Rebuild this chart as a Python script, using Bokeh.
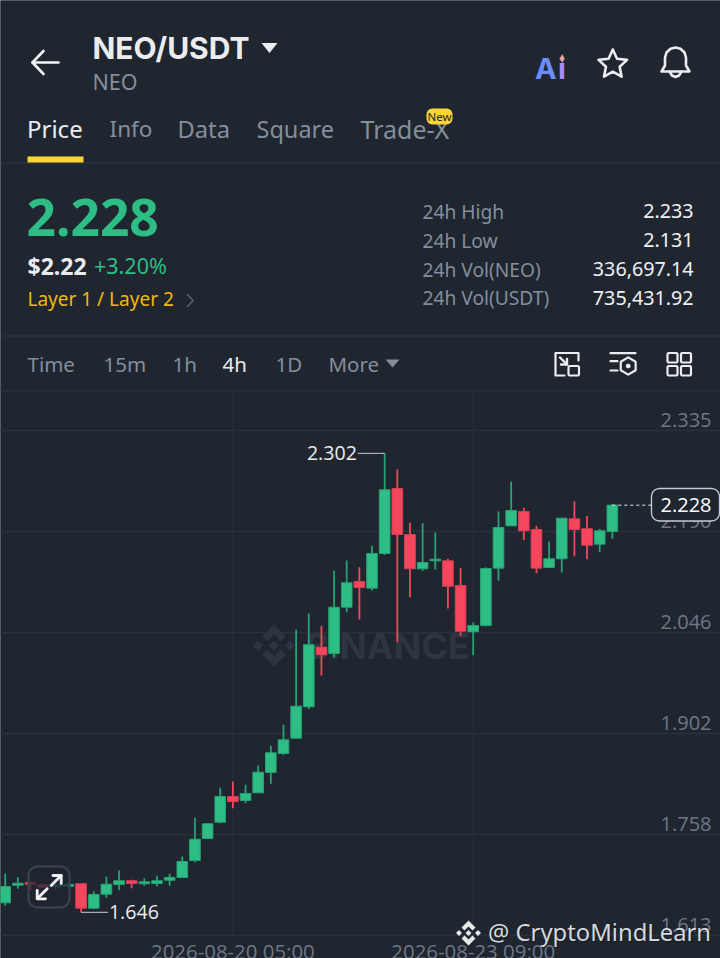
import numpy as np
from bokeh.plotting import figure
from bokeh.models import Range1d, Grid, FixedTicker
from bokeh.core.properties import value
from bokeh.embed import file_html
from bokeh.resources import INLINE

# ---------- data ----------
opens = [1.6598,1.6850,1.6888,1.6860,1.6831,1.6835,1.6870,1.6521,1.6721,1.6860,1.6913,1.6870,1.6874,1.6921,1.6960,1.7203,1.7517,
         1.7750,1.8117,1.8060,1.8170,1.8460,1.8732,1.8950,1.9399,2.0251,2.0161,2.0822,2.1190,2.1094,2.1590,2.2518,2.1861,2.1371,
         2.1485,2.1485,2.1132,2.0471,2.0561,2.1380,2.1985,2.2190,2.1933,2.1390,2.1514,2.2085,2.1943,2.1723,2.1904]
closes = [1.6831,1.6878,1.6864,1.6821,1.6850,1.6860,1.6521,1.6717,1.6864,1.6913,1.6874,1.6898,1.6913,1.6960,1.7188,1.7507,1.7727,
          1.8117,1.8046,1.8160,1.8464,1.8742,1.8927,1.9408,2.0285,2.0142,2.0822,2.1171,2.1104,2.1590,2.2500,2.1861,2.1371,2.1461,
          2.1508,2.1122,2.0479,2.0561,2.1375,2.1961,2.2204,2.1914,2.1380,2.1514,2.2094,2.1933,2.1708,2.1914,2.2280]
highs = [1.7017,1.6964,1.6907,1.6870,1.6860,1.6860,1.6870,1.6760,1.6970,1.7060,1.6927,1.6950,1.6984,1.7013,1.7260,1.7813,1.7731,
         1.8241,1.8331,1.8284,1.8560,1.8842,1.9142,2.0499,2.0732,2.0556,2.1342,2.1490,2.1394,2.1700,2.3020,2.2790,2.2028,2.2022,
         2.1890,2.1514,2.1385,2.0604,2.1390,2.2190,2.2618,2.2243,2.1985,2.1761,2.2094,2.2333,2.2126,2.1943,2.2300]
lows = [1.6560,1.6798,1.6774,1.6812,1.6792,1.6831,1.6460,1.6507,1.6670,1.6778,1.6807,1.6841,1.6835,1.6841,1.6960,1.7178,1.7507,
        1.7736,1.7950,1.8021,1.8170,1.8299,1.8707,1.8950,1.9365,1.9846,2.0108,2.0751,2.0646,2.1061,2.1571,2.0322,2.0965,2.1342,
        2.1361,2.0804,2.0414,2.0136,2.0546,2.1200,2.1985,2.1780,2.1308,2.1380,2.1318,2.1551,2.1508,2.1608,2.1800]
price_ticks = [2.335, 2.190, 2.046, 1.902, 1.758, 1.613]
time_tick_idx = [18, 37]
time_tick_labels = ["2026-08-20 05:00", "2026-08-23 09:00"]
tab_labels = ["Price", "Info", "Data", "Square", "Trade-X"]
interval_labels = ["Time", "15m", "1h", "4h", "1D", "More"]
stat_labels = ["24h High", "24h Low", "24h Vol(NEO)", "24h Vol(USDT)"]
stat_values = ["2.233", "2.131", "336,697.14", "735,431.92"]

# ---------- colours ----------
BG = "#1f2630"
GREEN = "#2ebd85"
RED = "#f6465d"
WHITE = "#eaecef"
GRAY = "#848e9c"
AXIS = "#6f7785"
LINE = "#2b313b"
YELLOW = "#fcd535"
UI = "Noto Sans"
NUM = "Open Sans"

W, H = 720, 958
p = figure(width=W, height=H, x_range=Range1d(0, W), y_range=Range1d(H, 0),
           x_axis_location=None, y_axis_location=None, toolbar_location=None,
           output_backend="svg", min_border=0, outline_line_color=None,
           background_fill_color=BG, border_fill_color=BG)
p.grid.visible = False
p.styles = {"position": "absolute", "left": "0px", "top": "0px"}

# price and candle-index scales on the same frame
p.extra_y_ranges["price"] = Range1d(1.5802, 2.9492)
p.extra_x_ranges["idx"] = Range1d(-0.3715, 56.55)
p.add_layout(Grid(dimension=1, ticker=FixedTicker(ticks=price_ticks), y_range_name="price",
                  grid_line_color=LINE, grid_line_width=1.5))


def T(x, y, s, color=WHITE, size=20, align="left", font=UI, style="normal", **kw):
    p.text(x=[x], y=[y], text=[s], text_color=color, text_font=value(font),
           text_font_size=f"{size}px", text_align=align, text_baseline="middle",
           text_font_style=style, **kw)


def L(xs, ys, color=WHITE, width=2.5, **kw):
    p.line(xs, ys, line_color=color, line_width=width, line_cap="round", line_join="round", **kw)


def rrect(x0, y0, x1, y1, r):
    t = np.linspace(0, np.pi / 2, 7)
    xs = np.concatenate([x1 - r + r * np.sin(t), x1 - r + r * np.cos(t), x0 + r - r * np.sin(t), x0 + r - r * np.cos(t)])
    ys = np.concatenate([y0 + r - r * np.cos(t), y1 - r + r * np.sin(t), y1 - r + r * np.cos(t), y0 + r - r * np.sin(t)])
    return xs, ys


def logo(cx, cy, R, color, alpha=1.0):
    d = 0.24
    parts = [
        [(0, -1), (.56, -.44), (.32, -.2), (0, -.52), (-.32, -.2), (-.56, -.44)],
        [(0, 1), (.56, .44), (.32, .2), (0, .52), (-.32, .2), (-.56, .44)],
        [(0, -d), (d, 0), (0, d), (-d, 0)],
        [(-.76, -d), (-.76 + d, 0), (-.76, d), (-.76 - d, 0)],
        [(.76, -d), (.76 + d, 0), (.76, d), (.76 - d, 0)],
    ]
    p.patches([[cx + R * a for a, _ in q] for q in parts], [[cy + R * b for _, b in q] for q in parts],
              fill_color=color, fill_alpha=alpha, line_color=None)


# ---------- frame edge ----------
p.segment(x0=[0, 0], x1=[W, 0], y0=[0, 0], y1=[0, H], line_color=BG, line_width=3)

# ---------- separators ----------
p.segment(x0=[0, 0, 0], x1=[W, W, W], y0=[162.5, 335.5, 390.5], y1=[162.5, 335.5, 390.5], line_color=LINE, line_width=1.5)
p.segment(x0=time_tick_idx, x1=time_tick_idx, y0=[2.39, 2.39], y1=[1.613, 1.613], line_color=LINE, line_width=1,
          x_range_name="idx", y_range_name="price")

# ---------- watermark ----------
logo(273.5, 645, 21, "#2e3540")
T(305, 645, "BINANCE", "#2e3540", 36, font="Inter", style="bold")

# ---------- candles ----------
idx = list(range(len(opens)))
up = [i for i in idx if closes[i] >= opens[i]]
dn = [i for i in idx if closes[i] < opens[i]]
for sel, col, edge in ((up, GREEN, "#27a274"), (dn, RED, "#d93f54")):
    p.segment(x0=sel, x1=sel, y0=[highs[i] for i in sel], y1=[lows[i] for i in sel], line_color=edge if col == GREEN else col,
              line_width=1.8, x_range_name="idx", y_range_name="price")
    p.vbar(x=sel, width=0.84, top=[max(opens[i], closes[i]) for i in sel], bottom=[min(opens[i], closes[i]) for i in sel],
           fill_color=col, line_color=edge, line_width=1, x_range_name="idx", y_range_name="price")

# ---------- price axis labels ----------
for v in price_ticks:
    p.text(x=[711], y=[v], text=[f"{v:.3f}"], text_color=AXIS, text_font=value(NUM), text_font_size="20px",
           text_align="right", text_baseline="middle", y_offset=-10.5, y_range_name="price")
for i, s in zip(time_tick_idx, time_tick_labels):
    p.text(x=[i], y=[1.5802], text=[s], text_color=AXIS, text_font=value(NUM), text_font_size="20.4px",
           text_align="center", text_baseline="middle", y_offset=-8, x_range_name="idx", y_range_name="price")

# ---------- high / low / last markers ----------
i_hi = int(np.argmax(highs))
i_lo = int(np.argmin(lows))
p.segment(x0=[i_hi - 2.13, i_lo], x1=[i_hi, i_lo + 2.13], y0=[highs[i_hi], lows[i_lo]], y1=[highs[i_hi], lows[i_lo]],
          line_color="#a6abb3", line_width=1.2, x_range_name="idx", y_range_name="price")
p.text(x=[i_hi - 2.2], y=[highs[i_hi]], text=[f"{highs[i_hi]:.3f}"], text_color=WHITE, text_font=value(NUM), text_font_size="19.6px",
       text_align="right", text_baseline="middle", x_range_name="idx", y_range_name="price")
p.text(x=[i_lo + 2.2], y=[lows[i_lo]], text=[f"{lows[i_lo]:.3f}"], text_color=WHITE, text_font=value(NUM), text_font_size="19.6px",
       text_align="left", text_baseline="middle", x_range_name="idx", y_range_name="price")

bx, by = rrect(651, 488, 719, 520.5, 8)
p.patch(bx, by, fill_color=BG, line_color="#c7cbd1", line_width=1.3)
p.segment(x0=[idx[-1]], x1=[51.1], y0=[closes[-1]], y1=[closes[-1]], line_color=WHITE, line_width=1, line_dash="3 3",
          x_range_name="idx", y_range_name="price")
p.text(x=[685.5], y=[closes[-1]], text=[f"{closes[-1]:.3f}"], text_color="#ffffff", text_font=value(NUM), text_font_size="20px",
       text_align="center", text_baseline="middle", y_range_name="price")

# ---------- expand button ----------
bx, by = rrect(28, 866, 69, 907, 9)
p.patch(bx, by, fill_color=BG, fill_alpha=0.72, line_color="#3d4451", line_width=2)
L([50.7, 60.7], [885, 875], "#f0f1f3", 2.8)
L([52.5, 60.7, 60.7], [875, 875, 883], "#f0f1f3", 2.8)
L([46.7, 36.7], [888.3, 898.3], "#f0f1f3", 2.8)
L([36.7, 36.7, 45], [890, 898.3, 898.3], "#f0f1f3", 2.8)

# ---------- header ----------
L([58, 32], [62, 62], "#f2f3f5", 2.6)
L([43, 32, 43], [50.5, 62, 73.5], "#f2f3f5", 2.6)
T(92, 47, "NEO/USDT", WHITE, 30, font="Inter", style="bold")
p.patch([261, 277, 269], [42.5, 42.5, 52.5], fill_color=WHITE, line_color=None)
T(92, 81, "NEO", GRAY, 21.5)

# Ai badge
T(534.5, 67.5, "A", "#6d8cff", 29, font="Inter", style="bold")
T(557.5, 67.5, "i", "#a78bfa", 29, font="Inter", style="bold")
p.patch([561.7, 564, 561.7, 559.4], [53.5, 58, 62.5, 58], fill_color="#e7a58f", line_color=None)

# star
a = -np.pi / 2 + np.arange(11) * np.pi / 5
r = np.where(np.arange(11) % 2 == 0, 15, 7.2)
L(612.3 + r * np.cos(a), 64 + r * np.sin(a), WHITE, 2.6)

# bell
L(np.array([-14, -10.5, -10.5, -9, -5, 0, 5, 9, 10.5, 10.5, 14, -14]) + 675,
  [71, 65, 57, 52, 48.2, 47, 48.2, 52, 57, 65, 71, 71], WHITE, 2.6)
L(np.array([-6, -3.5, 0, 3.5, 6]) + 675, [71, 75, 76.5, 75, 71], WHITE, 2.6)

# tabs
for x, s, c, z in zip([26.5, 109, 177, 256, 360], tab_labels, [WHITE, GRAY, GRAY, GRAY, GRAY], [24, 22.5, 23.7, 23.5, 25]):
    T(x, 128, s, c, z)
p.quad(left=[27], right=[83], top=[156], bottom=[162], fill_color=YELLOW, line_color=None)
bx, by = rrect(426, 108, 452, 124, 6)
p.patch(bx, by, fill_color=YELLOW, line_color=None)
T(439, 116, "New", "#1e2329", 11.5, "center")

# price block
T(26, 216.5, "2.228", GREEN, 51.5, style="bold")
T(27, 265, "$2.22", WHITE, 23, style="bold")
T(93.5, 265, "+3.20%", GREEN, 21.5)
T(27, 298.5, "Layer 1 / Layer 2", "#f0b90b", 19)
L([187, 192.5, 187], [294, 300, 306], "#5e6673", 1.4)

for y, s, v in zip([210.5, 239.5, 268.5, 297], stat_labels, stat_values):
    T(422, y, s, GRAY, 19.2)
    T(693, y, v, "#f0f1f3", 19.7, "right", style="normal")

# interval row
for x, s, c in zip([27, 103, 172, 222, 275, 328], interval_labels, [GRAY, GRAY, GRAY, WHITE, GRAY, GRAY]):
    T(x, 363, s, c, 20.5)
p.patch([385, 399, 392], [359, 359, 367], fill_color=GRAY, line_color=None)

# icon: pip
L([578, 578, 555, 555, 564], [360, 352.5, 352.5, 375, 375], WHITE, 2.2)
bx, by = rrect(568, 365.5, 578.5, 375, 1.5)
p.patch(bx, by, fill_color=None, line_color=WHITE, line_width=2.2)
L([559.5, 566.5], [357, 364], WHITE, 2.4)
L([566.5, 566.5, 560.5], [358.5, 364, 364], WHITE, 2.4)
# icon: indicators
L([610, 635], [352.7, 352.7], WHITE, 2.2)
L([610, 617], [360.7, 360.7], WHITE, 2.2)
L([610, 617], [370, 370], WHITE, 2.2)
a = -np.pi / 2 + np.arange(7) * np.pi / 3
L(627.7 + 8.6 * np.cos(a), 365.5 + 8.6 * np.sin(a), WHITE, 2.2)
p.patch(627.7 + 2.6 * np.cos(a), 365.5 + 2.6 * np.sin(a), fill_color=WHITE, line_color=None)
# icon: grid
for x0, x1 in ((667, 677), (680.5, 690.5)):
    for y0, y1 in ((352.5, 362), (365.5, 375)):
        bx, by = rrect(x0, y0, x1, y1, 1.5)
        p.patch(bx, by, fill_color=None, line_color=WHITE, line_width=2.2)

# ---------- bottom right overlay ----------
logo(468, 932.5, 12.5, "#e6e8ea")
T(488.5, 932.5, "@ CryptoMindLearn", "#15181e", 23.8, font="Noto Sans")
T(487.5, 931, "@ CryptoMindLearn", "#d5d8dc", 23.8, font="Noto Sans")

open("out.html", "w").write(file_html(p, INLINE))
